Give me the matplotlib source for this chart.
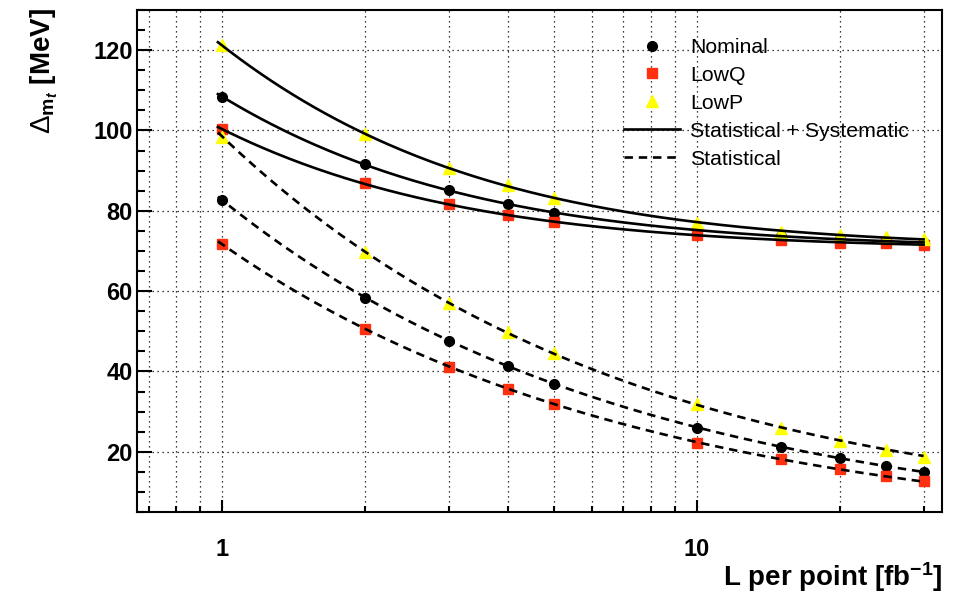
import numpy as np
import matplotlib
matplotlib.use("Agg")
from matplotlib import pyplot as plt
from matplotlib.ticker import FixedLocator, NullFormatter, MultipleLocator

plt.rcParams['font.family'] = ['Liberation Sans', 'DejaVu Sans']
plt.rcParams['font.weight'] = 'bold'
plt.rcParams['mathtext.fontset'] = 'custom'
plt.rcParams['mathtext.rm'] = 'Liberation Sans:normal'
plt.rcParams['mathtext.bf'] = 'Liberation Sans:bold'
plt.rcParams['mathtext.it'] = 'Liberation Sans:italic'

# luminosity per point [fb^-1]
lumi = np.array([1, 2, 3, 4, 5, 10, 15, 20, 25, 30])

# statistical + systematic
nominal_tot = [108.4, 91.6, 85.1, 81.6, 79.5, 75.2, 73.7, 72.9, 72.6, 72.0]
lowq_tot = [100.3, 86.8, 81.6, 78.9, 77.2, 74.0, 72.7, 72.1, 71.9, 71.5]
lowp_tot = [121.2, 99.0, 90.7, 86.3, 83.3, 76.9, 74.8, 74.0, 73.5, 73.0]

# statistical only
nominal_stat = [82.7, 58.4, 47.6, 41.4, 36.9, 26.0, 21.3, 18.5, 16.5, 15.0]
lowq_stat = [71.7, 50.6, 41.2, 35.6, 31.9, 22.3, 18.2, 15.8, 14.0, 12.6]
lowp_stat = [98.5, 69.8, 57.1, 49.7, 44.5, 31.8, 26.0, 22.8, 20.4, 18.6]

rojo = '#ff3010'
amarillo = '#ffff00'

fig = plt.figure(figsize=(9.59, 5.94), dpi=100)
ax = fig.add_axes([137/959, 82/594, 805/959, 502/594])

# fit curves  sigma^2 = a/L + b  obtained from the points above
lfit = np.logspace(np.log10(0.98), np.log10(30), 200)
for serie, estilo in [(nominal_tot, '-'), (lowq_tot, '-'), (lowp_tot, '-'),
                      (nominal_stat, '--'), (lowq_stat, '--'), (lowp_stat, '--')]:
    a, b = np.polyfit(1.0 / lumi, np.array(serie) ** 2, 1)
    yfit = np.sqrt(np.clip(a / lfit + b, 0, None))
    if estilo == '--':
        ax.plot(lfit, yfit, color='black', lw=1.9, ls=(0, (3.2, 2.2)), zorder=4)
    else:
        ax.plot(lfit, yfit, color='black', lw=1.9, ls='-', zorder=4)

for serie in [nominal_tot, nominal_stat]:
    ax.plot(lumi, serie, ls='none', marker='o', ms=7, color='black', zorder=3)
for serie in [lowq_tot, lowq_stat]:
    ax.plot(lumi, serie, ls='none', marker='s', ms=6.5, color=rojo, mec=rojo, zorder=3)
for serie in [lowp_tot, lowp_stat]:
    ax.plot(lumi, serie, ls='none', marker='^', ms=8, color=amarillo, mec=amarillo, zorder=3)

ax.set_xscale('log')
ax.set_xlim(0.662, 32.8)
ax.set_ylim(5, 130)

ax.xaxis.set_major_locator(FixedLocator([1, 10]))
ax.xaxis.set_minor_locator(FixedLocator([0.7, 0.8, 0.9, 2, 3, 4, 5, 6, 7, 8, 9, 20, 30]))
ax.xaxis.set_minor_formatter(NullFormatter())
ax.set_xticks([1, 10], ['1', '10'])
ax.yaxis.set_major_locator(MultipleLocator(20))
ax.yaxis.set_minor_locator(MultipleLocator(5))

ax.tick_params(axis='both', which='both', direction='in', width=1.5, top=False, right=False,
               labelsize=17)
ax.tick_params(axis='y', which='major', length=11, pad=3)
ax.tick_params(axis='y', which='minor', length=5.5)
ax.tick_params(axis='x', which='major', length=9, pad=19)
ax.tick_params(axis='x', which='minor', length=4.5)

for s in ax.spines.values():
    s.set_linewidth(1.5)

ax.grid(True, which='major', axis='y', color='black', lw=0.9, ls=(0, (1, 3)))
ax.grid(True, which='both', axis='x', color='black', lw=0.9, ls=(0, (1, 3)))
ax.set_axisbelow(True)

fig.text(942/959, 1 - 577/594, r'L per point [fb$^{\mathbf{-1}}$]', fontsize=20,
         fontweight='bold', ha='right', va='center')
fig.text(44/959, 1 - 8/594, r'$\Delta_{\mathbf{m}_{t}}$ [MeV]', fontsize=20,
         fontweight='bold', rotation=90, ha='center', va='top')

# legend
h1, = ax.plot([], [], ls='none', marker='o', ms=7, color='black')
h2, = ax.plot([], [], ls='none', marker='s', ms=6.5, color=rojo, mec=rojo)
h3, = ax.plot([], [], ls='none', marker='^', ms=8, color=amarillo, mec=amarillo)
h4, = ax.plot([], [], color='black', lw=1.9, ls='-')
h5, = ax.plot([], [], color='black', lw=1.9, ls=(0, (3.2, 2.2)))
fig.legend([h1, h2, h3, h4, h5],
           ['Nominal', 'LowQ', 'LowP', 'Statistical + Systematic', 'Statistical'],
           loc='upper left', bbox_to_anchor=(624/959, 1 - 38/594), frameon=False,
           prop={'size': 15.3, 'weight': 'normal'}, handlelength=2.65, handletextpad=0.45,
           labelspacing=0.42, numpoints=1, borderpad=0, borderaxespad=0)

fig.savefig('out.png', dpi=100)
